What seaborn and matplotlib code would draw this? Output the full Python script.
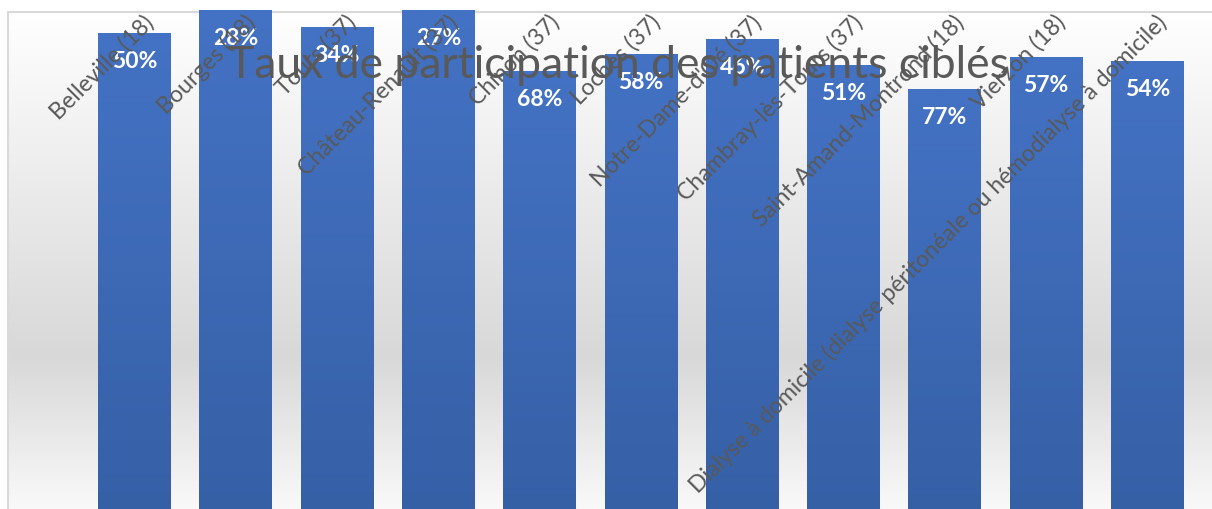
import matplotlib
matplotlib.use("Agg")
import matplotlib.pyplot as plt
import matplotlib.transforms as mtransforms
from matplotlib.colors import LinearSegmentedColormap
import seaborn as sns
import numpy as np
import pandas as pd

# ---- data ----
categories = [
    "Belleville (18)", "Bourges (18)", "Tours (37)", "Château-Renault (37)",
    "Chinon (37)", "Loches (37)", "Notre-Dame-d'Oé (37)", "Chambray-lès-Tours (37)",
    "Saint-Amand-Montrond (18)", "Vierzon (18)",
    "Dialyse à domicile (dialyse péritonéale ou hémodialyse à domicile)",
]
# bar heights as drawn in the reference (share of visible plot height, %)
bar_heights = [95.6, 100.4, 96.8, 100.4, 88.1, 91.5, 94.4, 89.3, 84.5, 90.9, 90.1]
value_labels = ["50%", "28%", "34%", "27%", "68%", "58%", "46%", "51%", "77%", "57%", "54%"]
title = "Taux de participation des patients ciblés"

W, H, DPI = 1212, 510, 100
sns.set_theme(style="white")
plt.rcParams["font.family"] = ["Lato", "DejaVu Sans"]

fig = plt.figure(figsize=(W / DPI, H / DPI), dpi=DPI, facecolor="white")

# chart-area background with vertical gradient and light frame (cropped right/bottom)
bg = fig.add_axes([8 / W, -0.01, 1.0, (510 - 13) / H + 0.01])
bg_cmap = LinearSegmentedColormap.from_list(
    "bg", [(0.0, (250/255, 250/255, 250/255)), (0.31, (216/255, 216/255, 216/255)),
           (1.0, (255/255, 255/255, 255/255))])
grad = np.linspace(0, 1, 256).reshape(-1, 1)
bg.imshow(grad, aspect="auto", cmap=bg_cmap, origin="lower", extent=[0, 1, 0, 1])
bg.set_xlim(0, 1); bg.set_ylim(0, 1)
bg.set_xticks([]); bg.set_yticks([])
for s in ["right", "bottom"]:
    bg.spines[s].set_visible(False)
for s in ["left", "top"]:
    bg.spines[s].set_color("#d9d9d9")
    bg.spines[s].set_linewidth(1.5)

# plot area
ax = fig.add_axes([84 / W, 0, (1198 - 84) / W, 497 / H])
ax.set_facecolor("none")
df = pd.DataFrame({"cat": categories, "h": bar_heights})
sns.barplot(data=df, x="cat", y="h", color="#4472C4", saturation=1, width=0.72, ax=ax)

bar_cmap = LinearSegmentedColormap.from_list(
    "bar", [(54/255, 96/255, 166/255), (68/255, 114/255, 196/255)])
for p in ax.patches:
    x0, y0 = p.get_x(), p.get_y()
    w, h = p.get_width(), p.get_height()
    im = ax.imshow(grad, aspect="auto", cmap=bar_cmap, origin="lower",
                   extent=[x0, x0 + w, y0, y0 + h], zorder=2)
    im.set_clip_on(False)
    p.set_visible(False)

ax.set_xlim(-0.5, len(categories) - 0.5)
ax.set_ylim(0, 100)
ax.set_xticks([]); ax.set_yticks([])
ax.set_xlabel(""); ax.set_ylabel("")
for s in ax.spines.values():
    s.set_visible(False)

# value labels inside bars
for i, (hgt, lab) in enumerate(zip(bar_heights, value_labels)):
    ax.annotate(lab, (i, hgt), xytext=(0, -19.5), textcoords="offset points",
                ha="center", va="center", color="white", fontsize=16.5,
                fontweight="bold", zorder=5, annotation_clip=False)

# category labels (rotated, ending near the top)
trans = mtransforms.blended_transform_factory(ax.transData, ax.transAxes)
off = mtransforms.ScaledTranslation(16 / DPI, 0, fig.dpi_scale_trans)
for i, c in enumerate(categories):
    ax.text(i, (510 - 19) / 497, c, transform=trans + off, rotation=45,
            rotation_mode="anchor", ha="right", va="center",
            fontsize=16.7, color="#595959", zorder=6)

fig.text(619 / W, 1 - 78 / H, title, ha="center", va="baseline",
         fontsize=32, color="#595959", zorder=10)

fig.savefig("out.png", dpi=DPI, facecolor="white")
